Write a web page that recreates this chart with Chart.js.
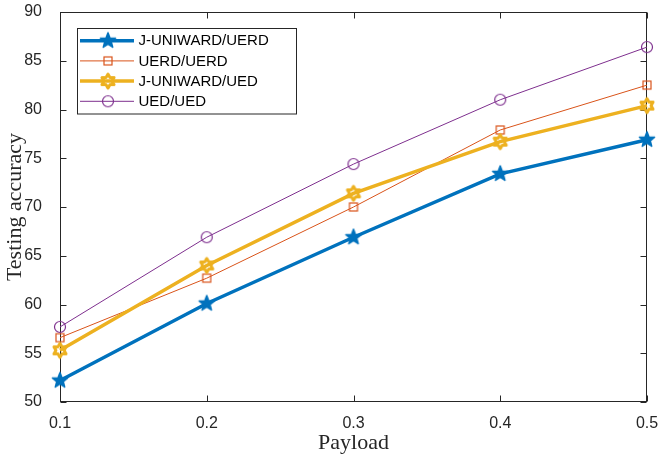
<!DOCTYPE html>
<html lang="en">
<head>
<meta charset="UTF-8">
<title>Testing accuracy vs payload</title>
<style>
  body { margin: 0; background: #fff; }
</style>
</head>
<body>
<canvas id="accChart" width="664" height="461"></canvas>
<script src="https://cdn.jsdelivr.net/npm/chart.js"></script>
<script>
  // values
  const payloads = ['0.1', '0.2', '0.3', '0.4', '0.5'];
  const juniUerd = [52.2, 60.1, 66.9, 73.4, 76.9];
  const uerdUerd = [56.6, 62.7, 70.0, 77.9, 82.5];
  const juniUed  = [55.3, 64.0, 71.4, 76.7, 80.4];
  const uedUed   = [57.7, 66.9, 74.4, 81.0, 86.4];
  const yTicks = [50, 55, 60, 65, 70, 75, 80, 85, 90];
  const seriesNames = ['J-UNIWARD/UERD', 'UERD/UERD', 'J-UNIWARD/UED', 'UED/UED'];

  const blue = '#0072BD', orange = '#D95319', yellow = '#EDB120', purple = '#7E2F8E';

  // marker images (MATLAB style markers)
  function makeMarker(draw) {
    const c = document.createElement('canvas');
    c.width = 24; c.height = 24;
    const g = c.getContext('2d');
    g.translate(12, 12);
    draw(g);
    return c;
  }
  function starPath(g, points, outer, inner) {
    g.beginPath();
    for (let i = 0; i < points * 2; i++) {
      const r = i % 2 === 0 ? outer : inner;
      const a = -Math.PI / 2 + i * Math.PI / points;
      const px = r * Math.cos(a), py = r * Math.sin(a);
      if (i === 0) g.moveTo(px, py); else g.lineTo(px, py);
    }
    g.closePath();
  }
  const starMarker = makeMarker(g => {
    starPath(g, 5, 8, 3.4);
    g.fillStyle = blue; g.fill();
    g.strokeStyle = blue; g.lineWidth = 1.5; g.lineJoin = 'round'; g.stroke();
  });
  const hexMarker = makeMarker(g => {
    starPath(g, 6, 7, 4.04);
    g.strokeStyle = yellow; g.lineWidth = 3; g.lineJoin = 'round'; g.stroke();
  });
  const squareMarker = makeMarker(g => {
    g.strokeStyle = orange; g.lineWidth = 1.2;
    g.strokeRect(-4, -4, 8, 8);
  });
  const circleMarker = makeMarker(g => {
    g.beginPath(); g.arc(0, 0, 5.5, 0, Math.PI * 2);
    g.strokeStyle = purple; g.lineWidth = 1.2; g.stroke();
  });

  // box with inward ticks on all four sides
  const framePlugin = {
    id: 'frame',
    beforeDatasetsDraw(chart) {
      const { ctx, chartArea: a, scales: { x, y } } = chart;
      const L = Math.round(a.left) + 0.5, R = Math.round(a.right) - 0.5;
      const T = Math.round(a.top) + 0.5, B = Math.round(a.bottom) - 0.5;
      ctx.save();
      ctx.strokeStyle = '#262626';
      ctx.lineWidth = 1;
      ctx.strokeRect(L, T, R - L, B - T);
      ctx.beginPath();
      x.ticks.forEach((t, i) => {
        const px = Math.round(x.getPixelForTick(i)) + 0.5;
        ctx.moveTo(px, B); ctx.lineTo(px, B - 6);
        ctx.moveTo(px, T); ctx.lineTo(px, T + 6);
      });
      y.ticks.forEach((t, i) => {
        const py = Math.round(y.getPixelForTick(i)) + 0.5;
        ctx.moveTo(L, py); ctx.lineTo(L + 6, py);
        ctx.moveTo(R, py); ctx.lineTo(R - 6, py);
      });
      ctx.stroke();
      ctx.restore();
    }
  };

  // MATLAB-like legend box, upper left
  const legendPlugin = {
    id: 'boxLegend',
    afterDatasetsDraw(chart) {
      const { ctx } = chart;
      const bx = 77.5, by = 28.5, bw = 219, bh = 85.5;
      ctx.save();
      ctx.fillStyle = '#fff';
      ctx.fillRect(bx, by, bw, bh);
      ctx.strokeStyle = '#262626';
      ctx.lineWidth = 1;
      ctx.strokeRect(bx, by, bw, bh);
      chart.data.datasets.forEach((ds, i) => {
        const ry = 40.7 + i * 20.2;
        ctx.beginPath();
        ctx.strokeStyle = ds.borderColor;
        ctx.lineWidth = ds.borderWidth;
        ctx.moveTo(80, ry); ctx.lineTo(134, ry);
        ctx.stroke();
        const m = ds.pointStyle;
        ctx.drawImage(m, 108 - m.width / 2, ry - m.height / 2);
        ctx.fillStyle = '#000';
        ctx.font = '15px "Liberation Sans", Arial, sans-serif';
        ctx.textBaseline = 'middle';
        ctx.fillText(ds.label, 138.5, ry + 0.5);
      });
      ctx.restore();
    }
  };

  function makeSet(label, data, color, width, marker, order) {
    return {
      label: label,
      data: data,
      borderColor: color,
      backgroundColor: color,
      borderWidth: width,
      pointStyle: marker,
      pointRadius: 8,
      pointHoverRadius: 8,
      fill: false,
      tension: 0,
      order: order
    };
  }

  // keep the plot box fixed, no extra padding for edge labels
  function noPad(scale) {
    scale.paddingLeft = 0; scale.paddingRight = 0;
    scale.paddingTop = 0; scale.paddingBottom = 0;
  }

  const tickFont = { family: '"Liberation Sans", Arial, sans-serif', size: 16 };
  const titleFont = { family: '"Liberation Serif", "Times New Roman", serif', size: 22 };

  new Chart(document.getElementById('accChart'), {
    type: 'line',
    data: {
      labels: payloads,
      datasets: [
        makeSet(seriesNames[0], juniUerd, blue, 3.5, starMarker, 4),
        makeSet(seriesNames[1], uerdUerd, orange, 1, squareMarker, 3),
        makeSet(seriesNames[2], juniUed, yellow, 3.5, hexMarker, 2),
        makeSet(seriesNames[3], uedUed, purple, 1, circleMarker, 1)
      ]
    },
    options: {
      responsive: false,
      devicePixelRatio: 1,
      animation: false,
      layout: { padding: { top: 12, right: 17, left: 0, bottom: 0 }, autoPadding: false },
      plugins: { legend: { display: false }, tooltip: { enabled: false } },
      scales: {
        x: {
          type: 'category',
          offset: false,
          grid: { display: false },
          border: { display: false },
          ticks: { color: '#262626', font: tickFont, padding: 4, maxRotation: 0, autoSkip: false },
          title: { display: true, text: 'Payload', color: '#262626', font: titleFont, padding: { top: 0, bottom: 5 } },
          afterFit(scale) { scale.height = 59; noPad(scale); }
        },
        y: {
          min: 50,
          max: 90,
          grid: { display: false },
          border: { display: false },
          afterBuildTicks(scale) { scale.ticks = yTicks.map(v => ({ value: v })); },
          ticks: { color: '#262626', font: tickFont, padding: 10 },
          title: { display: true, text: 'Testing accuracy', color: '#262626', font: titleFont, padding: { top: 2, bottom: 0 } },
          afterFit(scale) { scale.width = 60; noPad(scale); }
        }
      }
    },
    plugins: [framePlugin, legendPlugin]
  });
</script>
</body>
</html>
